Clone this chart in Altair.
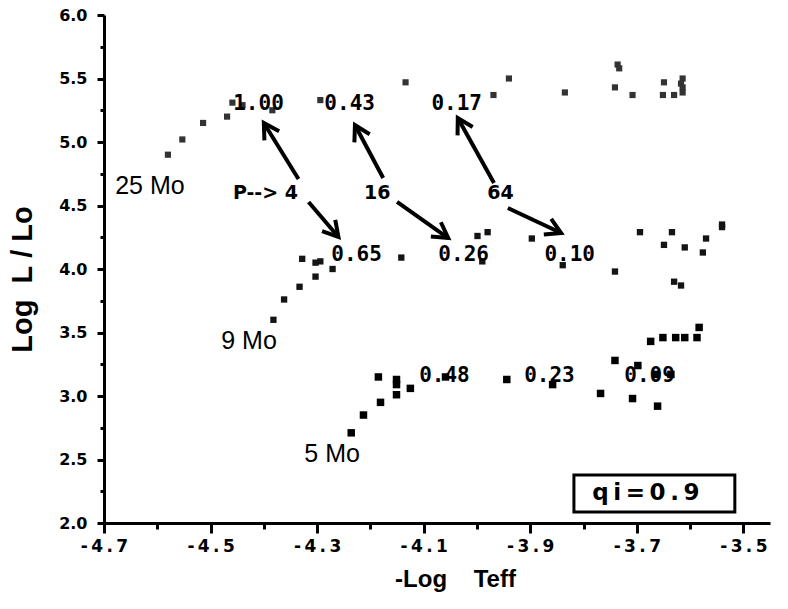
import numpy as np
import pandas as pd
import altair as alt

# ---- data ----
m25_x = [-4.58, -4.553, -4.514, -4.469, -4.459, -4.44, -4.384, -4.294, -4.134, -3.969, -3.94,
         -3.835, -3.741, -3.736, -3.733, -3.708, -3.651, -3.649, -3.63, -3.614, -3.617, -3.614, -3.614]
m25_y = [4.90, 5.02, 5.15, 5.20, 5.31, 5.29, 5.25, 5.33, 5.47, 5.37, 5.50,
         5.39, 5.43, 5.61, 5.58, 5.37, 5.37, 5.47, 5.37, 5.50, 5.46, 5.43, 5.39]

m9_x = [-4.382, -4.362, -4.333, -4.303, -4.271, -4.303, -4.294, -4.328, -4.142, -3.999, -3.98,
        -3.99, -3.897, -3.839, -3.741, -3.694, -3.649, -3.634, -3.610, -3.570, -3.576, -3.54,
        -3.54, -3.630, -3.617]
m9_y = [3.60, 3.76, 3.86, 3.94, 4.00, 4.05, 4.06, 4.08, 4.09, 4.26, 4.29,
        4.06, 4.24, 4.03, 3.98, 4.29, 4.19, 4.29, 4.17, 4.24, 4.13, 4.35,
        4.33, 3.90, 3.87]

m5_x = [-4.236, -4.213, -4.181, -4.185, -4.151, -4.151, -4.151, -4.125, -4.059, -3.944, -3.858,
        -3.768, -3.741, -3.698, -3.708, -3.661, -3.664, -3.636, -3.674, -3.651, -3.627, -3.61,
        -3.587, -3.583]
m5_y = [2.71, 2.85, 2.95, 3.15, 3.01, 3.09, 3.13, 3.06, 3.15, 3.13, 3.09,
        3.02, 3.28, 3.24, 2.98, 2.92, 3.17, 3.17, 3.43, 3.46, 3.46, 3.46,
        3.46, 3.54]

ratio_text = ["1.00", "0.43", "0.17", "0.65", "0.26", "0.10", "0.48", "0.23", "0.09"]
ratio_x = [-4.41, -4.239, -4.038, -4.226, -4.025, -3.826, -4.061, -3.864, -3.676]
ratio_y = [5.30, 5.30, 5.30, 4.11, 4.11, 4.11, 3.16, 3.16, 3.16]

mass_text = ["25 Mo", "9 Mo", "5 Mo"]
mass_x = [-4.679, -4.480, -4.324]
mass_y = [4.65, 3.43, 2.54]

period_text = ["P--> 4", "16", "64"]
period_x = [-4.397, -4.187, -3.956]
period_y = [4.60, 4.60, 4.60]

arrow_x1 = [-4.335, -4.316, -4.176, -4.150, -3.968, -3.942]
arrow_y1 = [4.709, 4.528, 4.717, 4.528, 4.677, 4.480]
arrow_x2 = [-4.400, -4.260, -4.229, -4.054, -4.036, -3.842]
arrow_y2 = [5.150, 4.252, 5.134, 4.244, 5.189, 4.283]

box_text = ["q\u2009i\u2009=\u20090\u2009.\u20099"]
box_text_x = [-3.683]
box_x1 = [-3.818]
box_x2 = [-3.516]
box_y1 = [2.378]
box_y2 = [2.087]

x_major = [-4.7, -4.5, -4.3, -4.1, -3.9, -3.7, -3.5]
x_minor = [-4.6, -4.4, -4.2, -4.0, -3.8, -3.6]
y_major = [2.0, 2.5, 3.0, 3.5, 4.0, 4.5, 5.0, 5.5, 6.0]
y_minor = [2.25, 2.75, 3.25, 3.75, 4.25, 4.75, 5.25, 5.75]

X_DOMAIN = [-4.7, -3.45]
Y_DOMAIN = [2.0, 6.0]
W, H = 666, 508

# ---- frames ----
d25 = pd.DataFrame({"x": m25_x, "y": m25_y})
d9 = pd.DataFrame({"x": m9_x, "y": m9_y})
d5 = pd.DataFrame({"x": m5_x, "y": m5_y})
dratio = pd.DataFrame({"x": ratio_x, "y": ratio_y, "t": ratio_text})
dmass = pd.DataFrame({"x": mass_x, "y": mass_y, "t": mass_text})
dper = pd.DataFrame({"x": period_x, "y": period_y, "t": period_text})
darr = pd.DataFrame({"x": arrow_x1, "y": arrow_y1, "x2": arrow_x2, "y2": arrow_y2})
kx = W / (X_DOMAIN[1] - X_DOMAIN[0])
ky = H / (Y_DOMAIN[1] - Y_DOMAIN[0])
ang = np.degrees(np.arctan2((darr["x2"] - darr["x"]) * kx, (darr["y2"] - darr["y"]) * ky))
darr["ang"] = np.mod(ang, 360)
dbox = pd.DataFrame({"x": box_x1, "x2": box_x2, "y": box_y1, "y2": box_y2, "t": box_text,
                     "xm": box_text_x, "ym": [(box_y1[0] + box_y2[0]) / 2]})

xs = alt.Scale(domain=X_DOMAIN, nice=False, zero=False)
ys = alt.Scale(domain=Y_DOMAIN, nice=False, zero=False)

TS = "\u2009"
x_lab_expr = ("'-" + TS + "' + replace(format(abs(datum.value), '.1f'), '.', '"
              + TS + "." + TS + "')")

x_major_axis = alt.Axis(values=x_major, orient="bottom", tickSize=10, tickWidth=3, tickColor="black",
                        domainWidth=3, domainColor="black", labelExpr=x_lab_expr,
                        labelFont="DejaVu Sans", labelFontWeight="bold", labelFontSize=17,
                        labelColor="black", labelPadding=5, labelFlush=False, labelOverlap=False,
                        grid=False,
                        titleFont="Liberation Sans", titleFontWeight="bold", titleFontSize=24,
                        titleColor="black", titleX=351, titleY=63, titleAlign="center",
                        titleBaseline="alphabetic")
x_minor_axis = alt.Axis(values=x_minor, orient="bottom", tickSize=6, tickWidth=3, tickColor="black",
                        domain=False, labels=False, grid=False)
y_major_axis = alt.Axis(values=y_major, orient="left", tickSize=7, tickWidth=3, tickColor="black",
                        domainWidth=3, domainColor="black", format=".1f",
                        labelFont="DejaVu Sans", labelFontWeight="bold", labelFontSize=16,
                        labelColor="black", labelPadding=10, labelFlush=False, labelOverlap=False,
                        grid=False,
                        titleFont="Liberation Sans", titleFontWeight="bold", titleFontSize=29,
                        titleColor="black", titleX=-82, titleY=264, titleAlign="center",
                        titleBaseline="middle", titleAngle=270)
y_minor_axis = alt.Axis(values=y_minor, orient="left", tickSize=4, tickWidth=3, tickColor="black",
                        domain=False, labels=False, grid=False)

NB = "\u00a0"
p5 = alt.Chart(d5).mark_point(shape="square", filled=True, color="black", size=56, opacity=1).encode(
    x=alt.X("x:Q", scale=xs, axis=x_major_axis, title="-Log" + NB * 4 + "Teff"),
    y=alt.Y("y:Q", scale=ys, axis=y_major_axis, title="Log" + NB * 2 + "L" + NB + "/" + NB + "Lo"),
)
p9 = alt.Chart(d9).mark_point(shape="square", filled=True, color="#141414", size=40, opacity=1).encode(
    x=alt.X("x:Q", scale=xs, axis=x_minor_axis, title=None),
    y=alt.Y("y:Q", scale=ys, axis=y_minor_axis, title=None),
)
p25 = alt.Chart(d25).mark_point(shape="square", filled=True, color="#333333", size=38, opacity=1).encode(
    x=alt.X("x:Q", scale=xs, axis=None),
    y=alt.Y("y:Q", scale=ys, axis=None),
)

ratios = alt.Chart(dratio).mark_text(font="DejaVu Sans Mono", fontWeight="bold", fontSize=21,
                                     color="black", align="center", baseline="middle").encode(
    x=alt.X("x:Q", scale=xs, axis=None), y=alt.Y("y:Q", scale=ys, axis=None), text="t:N")
masses = alt.Chart(dmass).mark_text(font="Liberation Sans", fontSize=25, color="black",
                                    align="left", baseline="middle").encode(
    x=alt.X("x:Q", scale=xs, axis=None), y=alt.Y("y:Q", scale=ys, axis=None), text="t:N")
periods = alt.Chart(dper).mark_text(font="DejaVu Sans", fontWeight="bold", fontSize=19, color="black",
                                    align="center", baseline="middle").encode(
    x=alt.X("x:Q", scale=xs, axis=None), y=alt.Y("y:Q", scale=ys, axis=None), text="t:N")

shafts = alt.Chart(darr).mark_rule(color="black", strokeWidth=4).encode(
    x=alt.X("x:Q", scale=xs, axis=None), y=alt.Y("y:Q", scale=ys, axis=None),
    x2="x2:Q", y2="y2:Q")
heads = alt.Chart(darr).mark_point(shape="M -0.5 0.87 L 0 0 L 0.5 0.87", filled=False,
                                   stroke="black", strokeWidth=4, size=1200, opacity=1,
                                   strokeJoin="miter").encode(
    x=alt.X("x2:Q", scale=xs, axis=None), y=alt.Y("y2:Q", scale=ys, axis=None),
    angle=alt.Angle("ang:Q", scale=None))

box = alt.Chart(dbox).mark_rect(fill="white", stroke="black", strokeWidth=3).encode(
    x=alt.X("x:Q", scale=xs, axis=None), x2="x2:Q",
    y=alt.Y("y:Q", scale=ys, axis=None), y2="y2:Q")
box_label = alt.Chart(dbox).mark_text(font="DejaVu Sans", fontWeight="bold", fontSize=23,
                                      color="black", align="center", baseline="middle").encode(
    x=alt.X("xm:Q", scale=xs, axis=None), y=alt.Y("ym:Q", scale=ys, axis=None), text="t:N")

chart = alt.layer(
    p5, p9, p25, shafts, heads, ratios, masses, periods, box, box_label
).resolve_axis(x="independent", y="independent").properties(
    width=W, height=H,
    autosize=alt.AutoSizeParams(type="none"),
    padding={"left": 104, "top": 15, "right": 18, "bottom": 86},
    background="white",
).configure_view(stroke=None)

chart.save("out.html", embed_options={"renderer": "svg", "actions": False})
